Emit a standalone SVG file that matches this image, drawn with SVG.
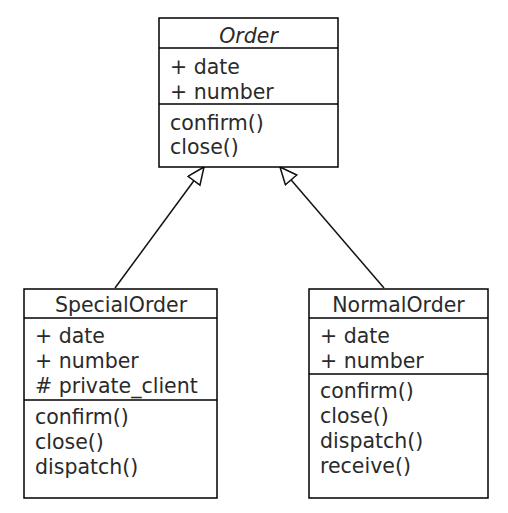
<svg xmlns="http://www.w3.org/2000/svg" width="508" height="513" viewBox="0 0 508 513">
<style>
.box{fill:#fff;stroke:#000;stroke-width:1.5}
.sep{stroke:#000;stroke-width:1.5}
text{font-family:"DejaVu Sans",sans-serif;font-size:20.5px;fill:#2a2a2a}
.name{text-anchor:middle}
.conn{stroke:#111;stroke-width:1.5;fill:none}
</style>
<defs>
<marker id="gen" markerWidth="20" markerHeight="20" refX="18" refY="8" orient="auto" markerUnits="userSpaceOnUse">
<path d="M18,8 L1,0.5 L1,15.5 Z" fill="#fff" stroke="#111" stroke-width="1.5"/>
</marker>
</defs>
<g id="connectors">
<line class="conn" x1="115" y1="288" x2="204" y2="167" marker-end="url(#gen)"/>
<line class="conn" x1="384" y1="288" x2="280" y2="167" marker-end="url(#gen)"/>
</g>
<g id="Order">
<rect class="box" x="159" y="18" width="179" height="149"/>
<line class="sep" x1="159" y1="48" x2="338" y2="48"/>
<line class="sep" x1="159" y1="104" x2="338" y2="104"/>
<text class="name" x="248.5" y="43" font-style="italic">Order</text>
<text x="170" y="74">+ date</text>
<text x="170" y="99">+ number</text>
<text x="170" y="130">confirm()</text>
<text x="170" y="154">close()</text>
</g>
<g id="SpecialOrder">
<rect class="box" x="24" y="289" width="193" height="209"/>
<line class="sep" x1="24" y1="318" x2="217" y2="318"/>
<line class="sep" x1="24" y1="400" x2="217" y2="400"/>
<text class="name" x="121" y="312">SpecialOrder</text>
<text x="35" y="343">+ date</text>
<text x="35" y="368">+ number</text>
<text x="35" y="393">#  private_client</text>
<text x="35" y="424">confirm()</text>
<text x="35" y="449">close()</text>
<text x="35" y="474">dispatch()</text>
</g>
<g id="NormalOrder">
<rect class="box" x="309" y="289" width="179" height="209"/>
<line class="sep" x1="309" y1="318" x2="488" y2="318"/>
<line class="sep" x1="309" y1="374" x2="488" y2="374"/>
<text class="name" x="398.5" y="312">NormalOrder</text>
<text x="320" y="343">+ date</text>
<text x="320" y="368">+ number</text>
<text x="320" y="398">confirm()</text>
<text x="320" y="423">close()</text>
<text x="320" y="448">dispatch()</text>
<text x="320" y="473">receive()</text>
</g>
</svg>
